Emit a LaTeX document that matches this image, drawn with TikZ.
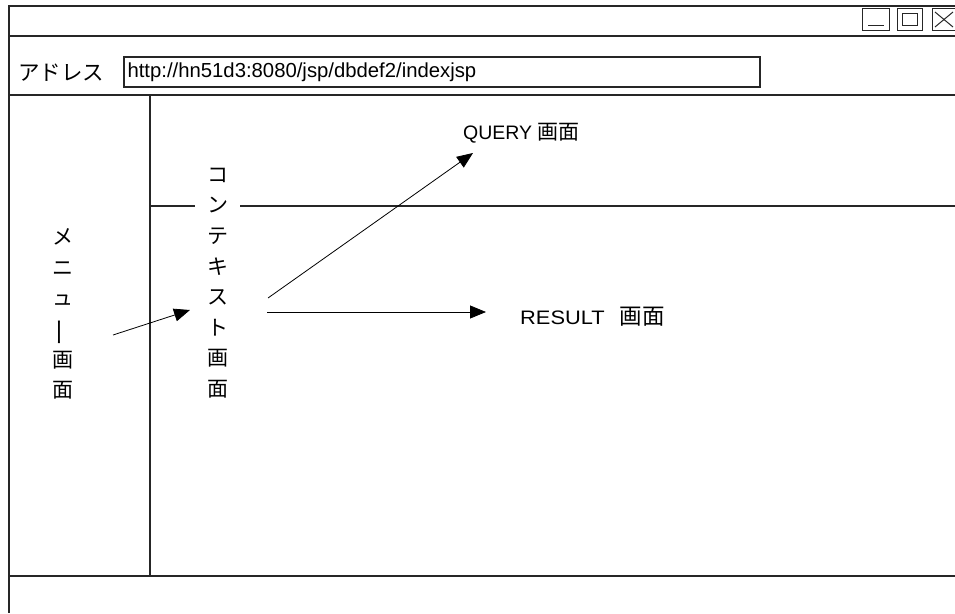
\documentclass[tikz,border=0pt]{standalone}
\usepackage{fontspec}
\setmainfont{Liberation Sans}
\newfontfamily\jp{Noto Sans CJK JP}
\usetikzlibrary{arrows.meta}

\begin{document}
\begin{tikzpicture}[x=1pt,y=-1pt,
  frame/.style={line width=1.3pt, draw=black!85},
  btn/.style={line width=1pt, draw=black!85},
  flow/.style={line width=0.8pt, -{Triangle[length=16pt,width=13pt]}},
  jlabel/.style={font=\jp\fontsize{21.5}{24}\selectfont, inner sep=0pt},
  elabel/.style={font=\fontsize{19.5}{24}\selectfont, inner sep=0pt},
  vlabel/.style={font=\jp\fontsize{21}{30.6}\selectfont, align=center, inner sep=0pt}]
\useasboundingbox (0,0) rectangle (955,613);

% browser window frame
\draw[frame] (955,6) -- (9,6) -- (9,613);
\draw[frame] (9,36) -- (955,36);
\draw[frame] (9,95) -- (955,95);
\draw[frame] (9,576) -- (955,576);
% frameset borders
\draw[frame] (150,95) -- (150,576);
\draw[frame] (150,206) -- (195,206);
\draw[frame] (240,206) -- (955,206);

% title bar buttons
\draw[btn] (862,8) rectangle (889,30);
\draw[btn] (868,25) -- (884,25);
\draw[btn] (897,8) rectangle (922,30);
\draw[btn] (902,13) rectangle (917,25);
\draw[btn] (932,8) rectangle (960,30);
\draw[btn] (935,12) -- (953,27);
\draw[btn] (935,27) -- (953,12);

% address bar
\node[jlabel, anchor=west] (addrlabel) at (18,73) {アドレス};
\node[draw=black!85, line width=1.3pt, minimum width=636pt, minimum height=30pt,
      inner sep=0pt] (addr) at (442,72) {};
\node[font=\fontsize{20.3}{24}\selectfont, inner sep=0pt, anchor=west] (url)
      at ([xshift=4pt]addr.west) {http://hn51d3:8080/jsp/dbdef2/indexjsp};

% frame names, set vertically
\node[vlabel] (menu) at (63,314)
  {メ\\ニ\\ュ\\\rotatebox[origin=c]{90}{\scalebox{1.35}[1]{ー}}\\画\\面};
\node[vlabel] (ctx) at (218,283) {コ\\ン\\テ\\キ\\ス\\ト\\画\\面};

% target frames
\node[elabel, anchor=west] (query) at (463,133)
  {QUERY {\jp\fontsize{21}{24}\selectfont 画面}};
\node[elabel, anchor=west] (result) at (520,317)
  {\scalebox{1.12}[1]{RESULT}\hspace{15pt}{\jp\fontsize{22.5}{24}\selectfont 画面}};

% navigation arrows
\coordinate (m1) at (113,335);
\coordinate (m2) at (190,310);
\coordinate (c1) at (268,298);
\coordinate (q1) at (473,153);
\coordinate (c2) at (267,312);
\coordinate (r1) at (486,312);
\draw[flow] (m1) -- (m2);
\draw[flow] (c1) -- (q1);
\draw[flow] (c2) -- (r1);
\end{tikzpicture}
\end{document}
